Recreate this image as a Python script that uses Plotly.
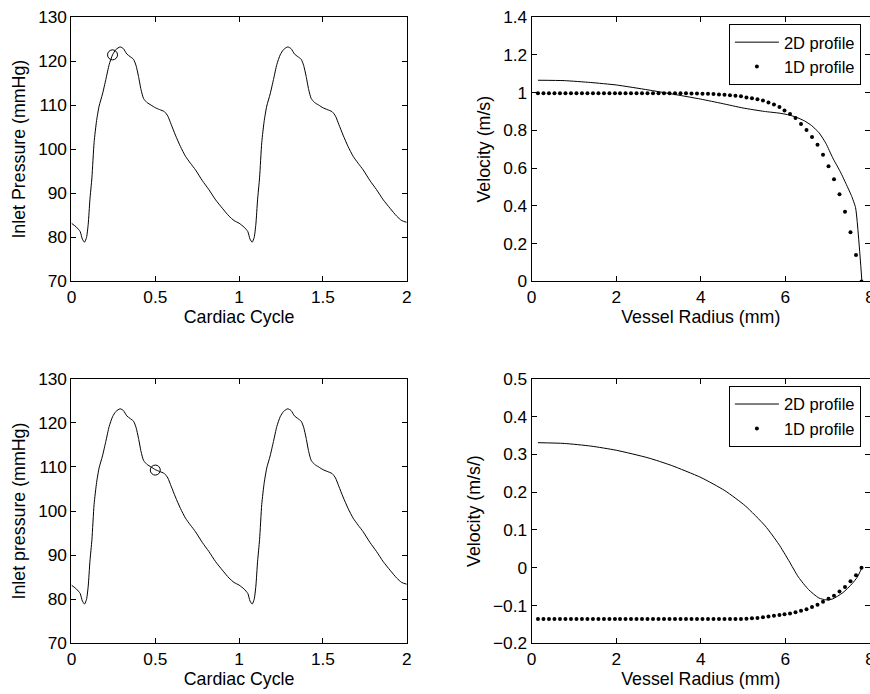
import plotly.graph_objects as go

# ---------------- data ----------------
# one cardiac cycle of inlet pressure (repeated for the second cycle)
cycle_t = [0.000, 0.030, 0.052, 0.065, 0.078, 0.090, 0.100, 0.110, 0.122, 0.135,
           0.150, 0.165, 0.185, 0.205, 0.225, 0.245, 0.265, 0.290, 0.310, 0.330,
           0.350, 0.370, 0.385, 0.400, 0.415, 0.430, 0.450, 0.475, 0.500, 0.525,
           0.555, 0.575, 0.595, 0.620, 0.650, 0.680, 0.710, 0.740, 0.780, 0.820,
           0.860, 0.900, 0.940, 0.970]
cycle_p = [83.2, 82.3, 81.3, 79.6, 78.9, 80.0, 83.0, 88.5, 93.5, 101.5,
           106.5, 109.8, 112.5, 115.8, 119.2, 121.4, 122.6, 123.2, 122.8, 121.6,
           121.0, 120.4, 119.0, 116.5, 113.5, 111.5, 110.6, 110.0, 109.4, 109.0,
           108.5, 107.5, 105.6, 103.2, 100.6, 98.4, 96.8, 95.3, 92.9, 90.8,
           88.5, 86.6, 84.8, 83.8]
end_t = [2.0]
end_p = [83.4]

marker_top = ([0.245], [121.4])
marker_bottom = ([0.50], [109.3])

# velocity profiles
r2d_top = [0.15, 0.77, 1.40, 2.00, 2.75, 3.30, 4.00, 4.50, 5.00, 5.50, 5.85,
           6.05, 6.25, 6.45, 6.62, 6.80, 6.96, 7.12, 7.30, 7.44, 7.56, 7.66, 7.81]
v2d_top = [1.065, 1.063, 1.053, 1.040, 1.014, 0.993, 0.965, 0.942, 0.918, 0.900, 0.891,
           0.883, 0.870, 0.850, 0.825, 0.786, 0.730, 0.654, 0.580, 0.514, 0.455, 0.390, 0.0]

r2d_bot = [0.15, 0.77, 1.40, 2.00, 2.75, 3.30, 4.00, 4.57, 5.05, 5.52, 5.84,
           6.08, 6.31, 6.55, 6.79, 6.96, 7.11, 7.36, 7.58, 7.70, 7.81]
v2d_bot = [0.331, 0.329, 0.322, 0.311, 0.291, 0.271, 0.239, 0.204, 0.164, 0.111,
           0.063, 0.019, -0.025, -0.058, -0.080, -0.085, -0.083, -0.066, -0.042,
           -0.025, 0.0]

r1d = [0.15, 0.28, 0.41, 0.54, 0.67, 0.80, 0.93, 1.06, 1.19, 1.32,
       1.45, 1.58, 1.71, 1.84, 1.97, 2.09, 2.22, 2.35, 2.48, 2.61,
       2.74, 2.87, 3.00, 3.13, 3.26, 3.39, 3.52, 3.65, 3.78, 3.91,
       4.04, 4.17, 4.30, 4.43, 4.56, 4.69, 4.82, 4.95, 5.08, 5.21,
       5.34, 5.47, 5.60, 5.73, 5.86, 5.98, 6.11, 6.24, 6.37, 6.50,
       6.63, 6.76, 6.89, 7.02, 7.15, 7.28, 7.41, 7.54, 7.67, 7.80]
v1d_top = [0.996, 0.996, 0.996, 0.996, 0.996, 0.996, 0.996, 0.996, 0.996, 0.996,
           0.996, 0.996, 0.996, 0.996, 0.996, 0.996, 0.996, 0.996, 0.996, 0.996,
           0.996, 0.996, 0.996, 0.996, 0.996, 0.996, 0.996, 0.996, 0.995, 0.995,
           0.994, 0.993, 0.992, 0.990, 0.988, 0.985, 0.983, 0.980, 0.974, 0.970,
           0.965, 0.958, 0.947, 0.937, 0.923, 0.905, 0.886, 0.865, 0.833, 0.802,
           0.765, 0.723, 0.670, 0.609, 0.541, 0.462, 0.369, 0.260, 0.140, 0.0]
v1d_bot = [-0.136, -0.136, -0.136, -0.136, -0.136, -0.136, -0.136, -0.136, -0.136, -0.136,
           -0.136, -0.136, -0.136, -0.136, -0.136, -0.136, -0.136, -0.136, -0.136, -0.136,
           -0.136, -0.136, -0.136, -0.136, -0.136, -0.136, -0.136, -0.136, -0.136, -0.136,
           -0.136, -0.136, -0.136, -0.136, -0.136, -0.136, -0.136, -0.136, -0.135, -0.134,
           -0.133, -0.131, -0.129, -0.127, -0.125, -0.123, -0.121, -0.118, -0.114, -0.110,
           -0.104, -0.098, -0.090, -0.082, -0.074, -0.063, -0.051, -0.036, -0.020, 0.0]

# two cycles of pressure
press_t = cycle_t + [t + 1.0 for t in cycle_t] + end_t
press_p = cycle_p + cycle_p + end_p

# ---------------- figure ----------------
# calibration of the page: figure pixel -> picture pixel
W, H = 878, 702
OFF = 8
SX, SY = 0.9818, 0.9772
FONT = "Liberation Sans, Arial, Helvetica, sans-serif"
TICK_FS = 17.3
TITLE_FS = 17.8
LEGEND_FS = 16.5

fig = go.Figure()

def fx(p):
    return (p - OFF) / SX

def fy(p):
    return (p - OFF) / SY

def px_x(a, b):
    return [max(0.0, fx(a) / W), min(1.0, fx(b) / W)]

def px_y(top, bottom):
    return [max(0.0, 1 - fy(bottom) / H), min(1.0, 1 - fy(top) / H)]

line_style = dict(color="black", width=1)
circle = dict(symbol="circle-open", size=10, color="black", line=dict(width=1, color="black"))

# top-left
fig.add_trace(go.Scatter(x=press_t, y=press_p, mode="lines",
                         line=dict(shape="spline", smoothing=0.6, **line_style),
                         xaxis="x", yaxis="y", showlegend=False))
fig.add_trace(go.Scatter(x=marker_top[0], y=marker_top[1], mode="markers", marker=circle,
                         xaxis="x", yaxis="y", showlegend=False))
# bottom-left
fig.add_trace(go.Scatter(x=press_t, y=press_p, mode="lines",
                         line=dict(shape="spline", smoothing=0.6, **line_style),
                         xaxis="x3", yaxis="y3", showlegend=False))
fig.add_trace(go.Scatter(x=marker_bottom[0], y=marker_bottom[1], mode="markers", marker=circle,
                         xaxis="x3", yaxis="y3", showlegend=False))
# top-right
fig.add_trace(go.Scatter(x=r2d_top, y=v2d_top, mode="lines", name="2D profile",
                         line=dict(shape="spline", smoothing=0.5, **line_style),
                         xaxis="x2", yaxis="y2", legend="legend"))
fig.add_trace(go.Scatter(x=r1d, y=v1d_top, mode="markers", name="1D profile",
                         marker=dict(size=4, color="black"),
                         xaxis="x2", yaxis="y2", legend="legend"))
# bottom-right
fig.add_trace(go.Scatter(x=r2d_bot, y=v2d_bot, mode="lines", name="2D profile",
                         line=dict(shape="spline", smoothing=0.6, **line_style),
                         xaxis="x4", yaxis="y4", legend="legend2"))
fig.add_trace(go.Scatter(x=r1d, y=v1d_bot, mode="markers", name="1D profile",
                         marker=dict(size=4, color="black"),
                         xaxis="x4", yaxis="y4", legend="legend2"))

axis_common = dict(showline=True, linecolor="black", linewidth=1, mirror="allticks",
                   ticks="inside", ticklen=5, tickcolor="black", tickwidth=1,
                   showgrid=False, zeroline=False, fixedrange=True,
                   tickfont=dict(family=FONT, size=TICK_FS, color="black"))

def xaxis(dom, rng, dtick, title, anchor):
    d = dict(axis_common)
    d.update(domain=dom, range=rng, tickmode="linear", tick0=0, dtick=dtick, anchor=anchor,
             title=dict(text=title, font=dict(family=FONT, size=TITLE_FS, color="black"), standoff=4))
    return d

def yaxis(dom, rng, dtick, tick0, title, anchor):
    d = dict(axis_common)
    d.update(domain=dom, range=rng, tickmode="linear", tick0=tick0, dtick=dtick, anchor=anchor,
             title=dict(text=title, font=dict(family=FONT, size=TITLE_FS, color="black"), standoff=7))
    return d

xl = px_x(74, 407)
xr = px_x(531, 867)
yt = px_y(15, 281)
yb = px_y(379, 645)

legend_common = dict(bgcolor="white", bordercolor="black", borderwidth=1,
                     font=dict(family=FONT, size=LEGEND_FS, color="black"),
                     xanchor="right", yanchor="top", tracegroupgap=0, itemwidth=44)

fig.update_layout(
    width=W, height=H,
    margin=dict(l=0, r=0, t=0, b=0),
    paper_bgcolor="white", plot_bgcolor="white",
    font=dict(family=FONT, size=TITLE_FS, color="black"),
    xaxis=xaxis(xl, [0, 2], 0.5, "Cardiac Cycle", "y"),
    yaxis=yaxis(yt, [70, 130], 10, 70, "Inlet Pressure (mmHg)", "x"),
    xaxis2=xaxis(xr, [0, 8], 2, "Vessel Radius (mm)", "y2"),
    yaxis2=yaxis(yt, [0, 1.4], 0.2, 0, "Velocity (m/s)", "x2"),
    xaxis3=xaxis(xl, [0, 2], 0.5, "Cardiac Cycle", "y3"),
    yaxis3=yaxis(yb, [70, 130], 10, 70, "Inlet pressure (mmHg)", "x3"),
    xaxis4=xaxis(xr, [0, 8], 2, "Vessel Radius (mm)", "y4"),
    yaxis4=yaxis(yb, [-0.2, 0.5], 0.1, 0, "Velocity (m/s/)", "x4"),
    legend=dict(x=fx(858) / W, y=1 - fy(22) / H, **legend_common),
    legend2=dict(x=fx(858) / W, y=1 - fy(386) / H, **legend_common),
)

fig.write_html("out.html")
